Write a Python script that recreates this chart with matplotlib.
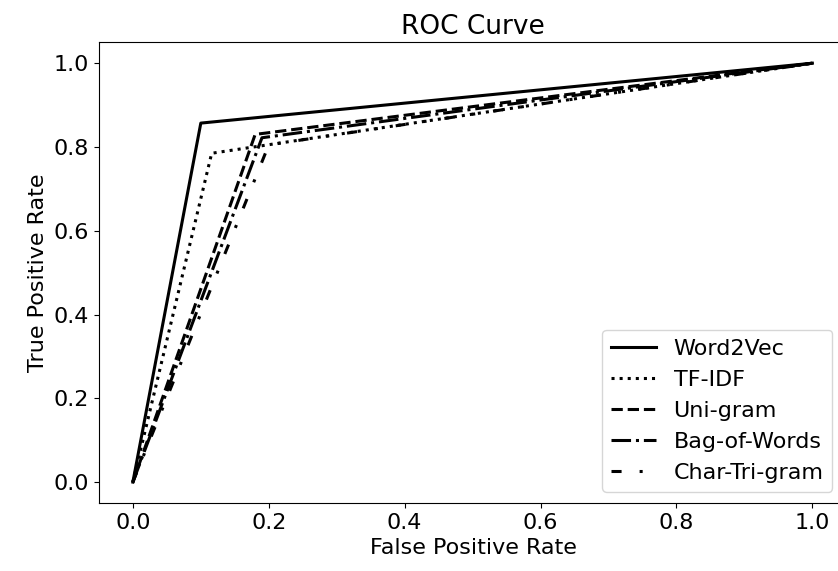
import matplotlib
matplotlib.use('Agg')
import matplotlib.pyplot as plt

# ROC points (fpr, tpr) for each model
labels = ['Word2Vec', 'TF-IDF', 'Uni-gram', 'Bag-of-Words', 'Char-Tri-gram']
fpr_w2v = [0.0, 0.10, 1.0]
tpr_w2v = [0.0, 0.857, 1.0]
fpr_tfidf = [0.0, 0.116, 1.0]
tpr_tfidf = [0.0, 0.785, 1.0]
fpr_uni = [0.0, 0.18, 1.0]
tpr_uni = [0.0, 0.83, 1.0]
fpr_bow = [0.0, 0.19, 1.0]
tpr_bow = [0.0, 0.822, 1.0]
fpr_tri = [0.0, 0.20, 1.0]
tpr_tri = [0.0, 0.805, 1.0]

plt.rcParams['font.size'] = 16

fig = plt.figure(figsize=(8.38, 5.71), dpi=100)
# right spine falls outside the picture, as in the reference (it is cropped)
ax = fig.add_axes([0.118, 0.119, 0.9325, 0.807])

lw = 2.2
ax.plot(fpr_w2v, tpr_w2v, color='black', linestyle='-', linewidth=lw, label=labels[0])
ax.plot(fpr_tfidf, tpr_tfidf, color='black', linestyle=':', linewidth=lw, label=labels[1])
ax.plot(fpr_uni, tpr_uni, color='black', linestyle='--', linewidth=lw, label=labels[2])
ax.plot(fpr_bow, tpr_bow, color='black', linestyle='-.', linewidth=lw, label=labels[3])
ax.plot(fpr_tri, tpr_tri, color='black', linestyle=(0, (3.3, 5.9, 1, 5.9)), linewidth=lw, label=labels[4])

ax.set_xlim(-0.05, 1.10)
ax.set_ylim(-0.05, 1.05)
ax.set_xlabel('False Positive Rate', x=0.479)
ax.set_ylabel('True Positive Rate')
ax.set_title('ROC Curve', fontsize=19, x=0.479)
ax.legend(loc='lower right', bbox_to_anchor=(0.953, 0.0))

fig.savefig('out.png', dpi=100)
